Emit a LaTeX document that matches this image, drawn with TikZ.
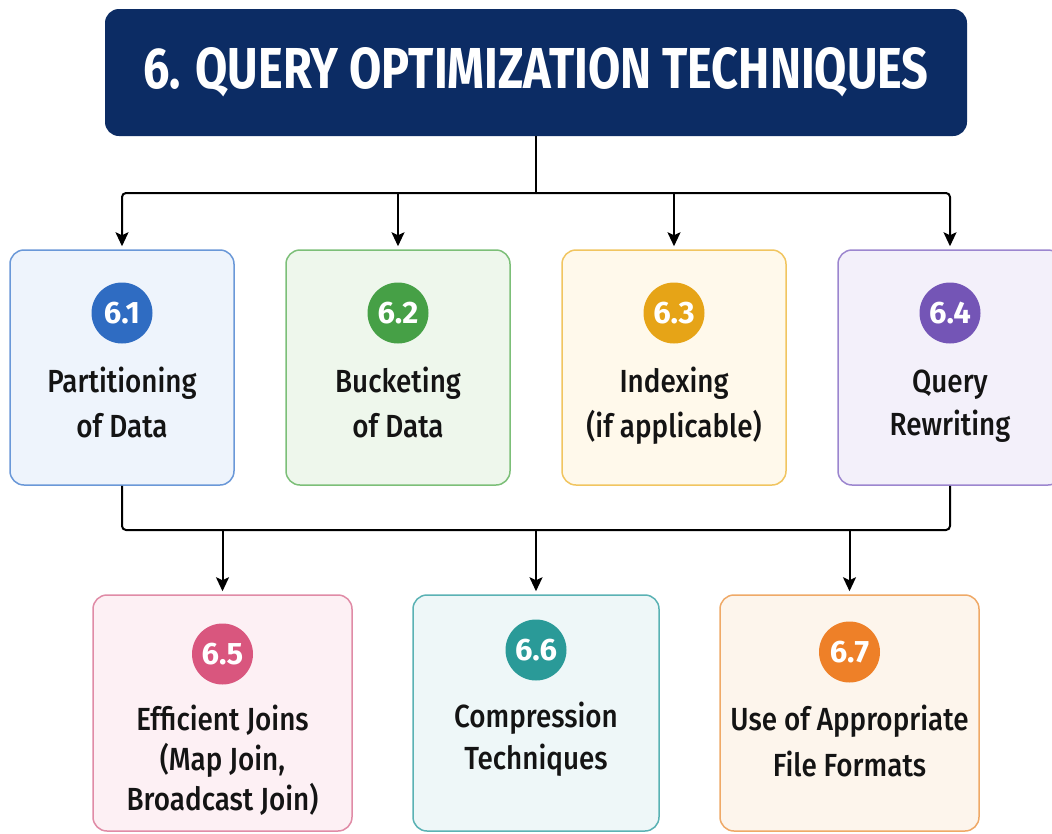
\documentclass[tikz,border=0pt]{standalone}
\usepackage{fontspec}
\usepackage{graphicx}
\setmainfont{Fira Sans}[UprightFont={* Medium}, BoldFont={* Bold}]
\newfontfamily\cardfont{Fira Sans}[UprightFont={* Medium}, FakeStretch=0.87]
\usetikzlibrary{arrows.meta}
\definecolor{navy}{HTML}{0C2C64}
\definecolor{cAf}{HTML}{EEF4FC}\definecolor{cAb}{HTML}{6A98D8}\definecolor{cA}{HTML}{2F6CC2}
\definecolor{cBf}{HTML}{EEF7EC}\definecolor{cBb}{HTML}{7CBF78}\definecolor{cB}{HTML}{46A046}
\definecolor{cCf}{HTML}{FFF9EB}\definecolor{cCb}{HTML}{F1C560}\definecolor{cC}{HTML}{E6A417}
\definecolor{cDf}{HTML}{F3F0FA}\definecolor{cDb}{HTML}{9C86CF}\definecolor{cD}{HTML}{7455B6}
\definecolor{cEf}{HTML}{FDF0F4}\definecolor{cEb}{HTML}{E08BA6}\definecolor{cE}{HTML}{D9567E}
\definecolor{cFf}{HTML}{EEF7F8}\definecolor{cFb}{HTML}{5AB2B4}\definecolor{cF}{HTML}{2A9A98}
\definecolor{cGf}{HTML}{FDF5EC}\definecolor{cGb}{HTML}{EFA967}\definecolor{cG}{HTML}{EE8028}
\begin{document}
\begin{tikzpicture}[x=1pt,y=-1pt,
  titlebox/.style={fill=navy, rounded corners=14pt, minimum width=862pt, minimum height=127pt, inner sep=0pt, text=white},
  card/.style={draw, rounded corners=14pt, line width=1.5pt, minimum width=224pt, minimum height=235pt, inner sep=0pt},
  wcard/.style={card, minimum width=259pt, minimum height=236pt},
  badge/.style={circle, minimum size=61pt, inner sep=0pt, text=white, font=\bfseries\fontsize{31}{31}\selectfont},
  lbl/.style={align=center, inner sep=0pt, anchor=base, text=black!92},
  conn/.style={line width=2pt, black},
  arr/.style={conn, -{Stealth[length=14pt,width=13pt,inset=3pt]}, shorten >=3pt}]
\useasboundingbox[fill=white] (0,0) rectangle (1052,833);

\node[titlebox] (title) at (536,72.5) {\resizebox{785pt}{41pt}{\bfseries 6. QUERY OPTIMIZATION TECHNIQUES}};

% row 1
\node[card, draw=cAb, fill=cAf] (b1) at (122,367.5) {};
\node[card, draw=cBb, fill=cBf] (b2) at (398,367.5) {};
\node[card, draw=cCb, fill=cCf] (b3) at (674,367.5) {};
\node[card, draw=cDb, fill=cDf] (b4) at (950,367.5) {};
\node[badge, fill=cA] (n1) at (122,313) {6.1};
\node[badge, fill=cB] (n2) at (398,313) {6.2};
\node[badge, fill=cC] (n3) at (674,313) {6.3};
\node[badge, fill=cD] (n4) at (950,313) {6.4};
\node[lbl, font=\cardfont\fontsize{32}{45}\selectfont] (t1) at (122,437) {Partitioning\\of Data};
\node[lbl, font=\cardfont\fontsize{32}{45}\selectfont] (t2) at (398,437) {Bucketing\\of Data};
\node[lbl, font=\cardfont\fontsize{32}{45}\selectfont] (t3) at (674,437) {Indexing\\(if applicable)};
\node[lbl, font=\cardfont\fontsize{32}{43}\selectfont] (t4) at (950,435) {Query\\Rewriting};

% row 2
\node[wcard, draw=cEb, fill=cEf] (b5) at (222.5,713) {};
\node[wcard, minimum width=246pt, draw=cFb, fill=cFf] (b6) at (536,713) {};
\node[wcard, draw=cGb, fill=cGf] (b7) at (849.5,713) {};
\node[badge, fill=cE] (n5) at (222.5,654) {6.5};
\node[badge, fill=cF] (n6) at (536,650) {6.6};
\node[badge, fill=cG] (n7) at (849.5,652) {6.7};
\node[lbl, font=\cardfont\fontsize{32}{40}\selectfont] (t5) at (222.5,810) {Efficient Joins\\(Map Join,\\Broadcast Join)};
\node[lbl, font=\cardfont\fontsize{32}{42}\selectfont] (t6) at (536,769) {Compression\\Techniques};
\node[lbl, font=\cardfont\fontsize{32}{46}\selectfont] (t7) at (849.5,776) {Use of Appropriate\\File Formats};

% connectors top
\coordinate (j1) at (536,193);
\draw[conn] (title.south) -- (j1);
\draw[arr, rounded corners=4pt] (j1) -| (b1.north);
\draw[arr] (j1) -| (b2.north);
\draw[arr] (j1) -| (b3.north);
\draw[arr, rounded corners=4pt] (j1) -| (b4.north);

% connectors bottom
\coordinate (j2) at (536,530);
\draw[conn, rounded corners=4pt] (b1.south) |- (j2);
\draw[conn, rounded corners=4pt] (b4.south) |- (j2);
\draw[arr] (b5.north |- j2) -- (b5.north);
\draw[arr] (j2) -- (b6.north);
\draw[arr] (b7.north |- j2) -- (b7.north);
\end{tikzpicture}
\end{document}
